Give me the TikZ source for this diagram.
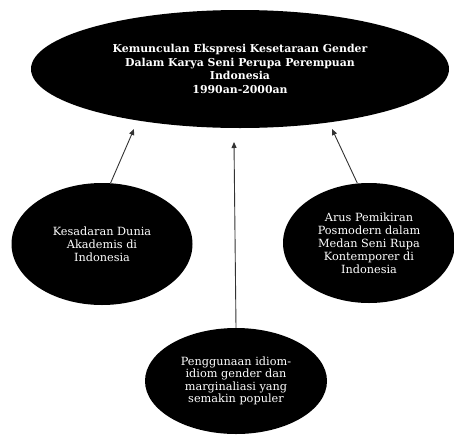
\documentclass[tikz,border=0pt]{standalone}
\usepackage{fontspec}
\setmainfont{DejaVu Serif}
\usetikzlibrary{shapes.geometric,arrows.meta}
\tikzset{
  blob/.style={ellipse, fill=black, draw=none, inner sep=0pt, text=white, align=center, font=\fontsize{11.3}{13}\selectfont},
  title/.style={blob, font=\bfseries\fontsize{10.9}{13.5}\selectfont},
  link/.style={draw=black!80, line width=0.9pt, -{Triangle[length=6pt,width=5pt]}}
}
\begin{document}
\begin{tikzpicture}[x=1pt,y=-1pt]
\useasboundingbox (0,0) rectangle (454,434);
\node[title, minimum width=418pt, minimum height=118pt] (top) at (240,69)
  {Kemunculan Ekspresi Kesetaraan Gender\\Dalam Karya Seni Perupa Perempuan\\Indonesia\\1990an-2000an};
\node[blob, minimum width=181pt, minimum height=122pt] (left) at (102,244)
  {Kesadaran Dunia\\Akademis di\\Indonesia};
\node[blob, minimum width=172pt, minimum height=120pt] (right) at (369,243)
  {Arus Pemikiran\\Posmodern dalam\\Medan Seni Rupa\\Kontemporer di\\Indonesia};
\node[blob, font=\fontsize{11.3}{12.4}\selectfont, minimum width=182pt, minimum height=106pt] (bot) at (236,381)
  {Penggunaan idiom-\\idiom gender dan\\marginaliasi yang\\semakin populer};
\coordinate (tl) at (134,129);
\coordinate (tm) at (234,142);
\coordinate (tr) at (332,129);
\draw[link] (left.82) -- (tl);
\draw[link] (bot.north) -- (tm);
\draw[link] (right.101) -- (tr);
\end{tikzpicture}
\end{document}
